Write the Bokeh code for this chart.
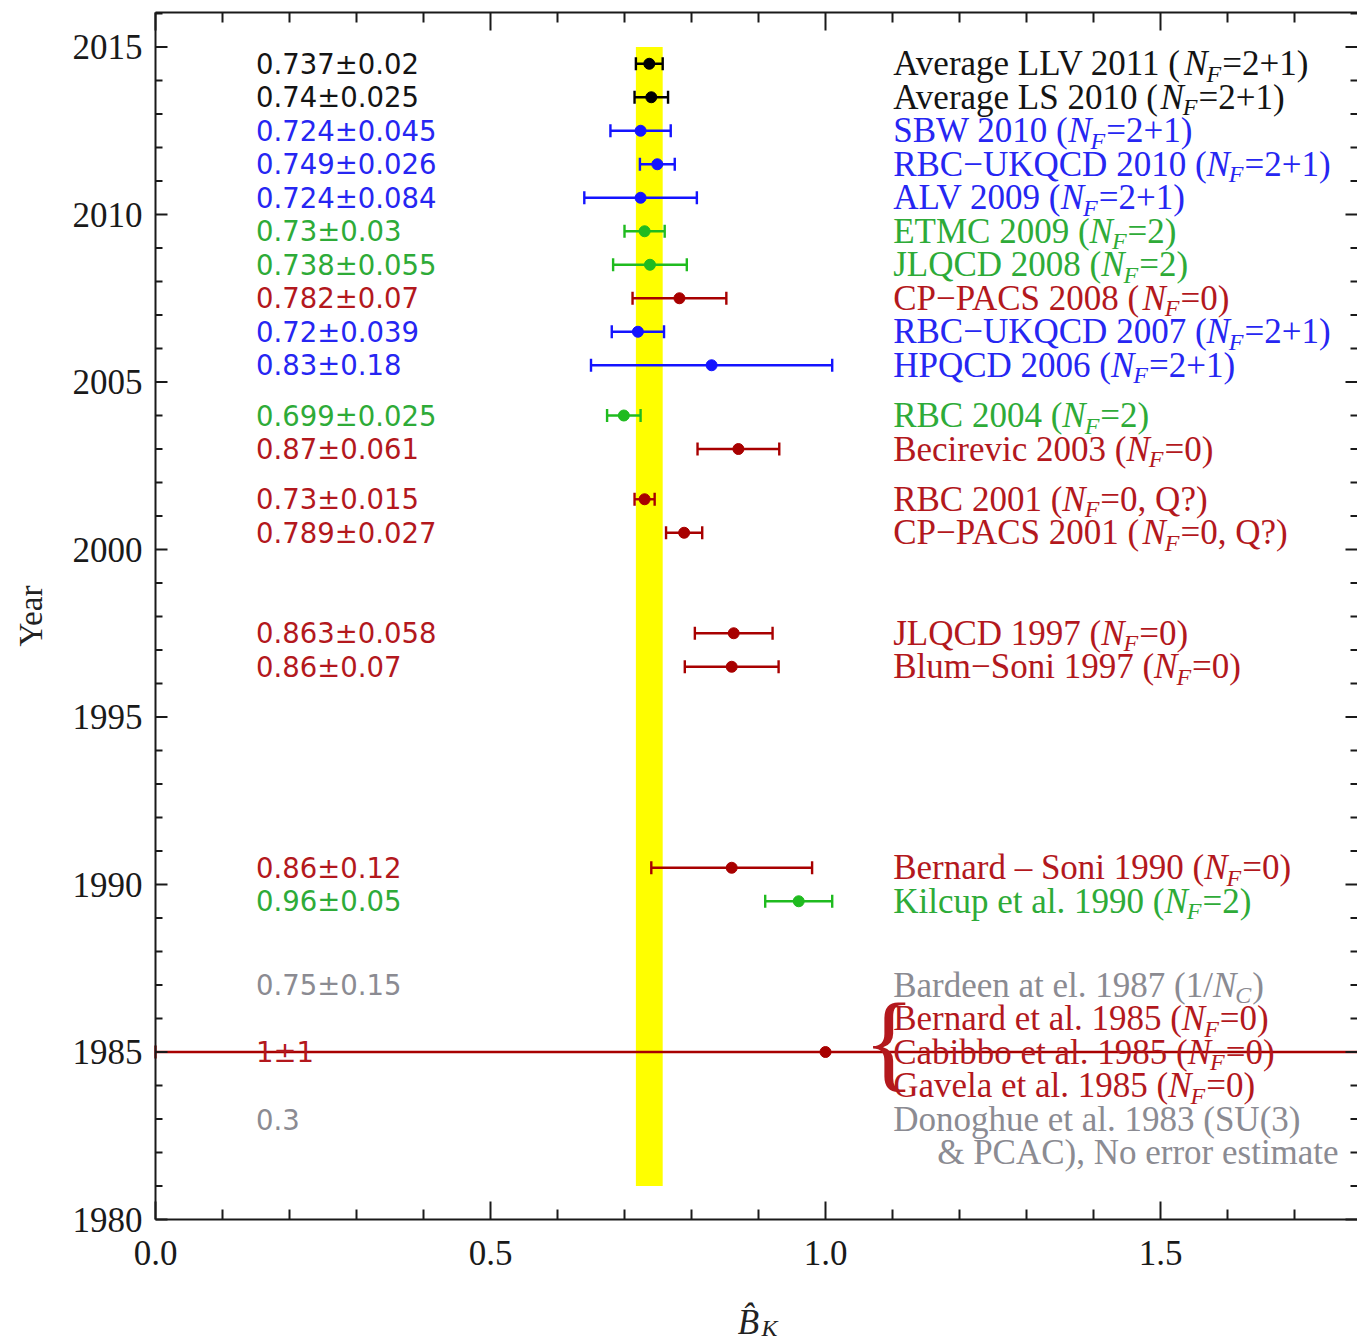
import numpy as np
from bokeh.plotting import figure
from bokeh.models import ColumnDataSource
from bokeh.core.properties import value
from bokeh.embed import file_html
from bokeh.resources import INLINE

# ------------------------------------------------------------------ data
row_year = [2014.5, 2013.5, 2012.5, 2011.5, 2010.5, 2009.5, 2008.5, 2007.5, 2006.5, 2005.5,
            2004.0, 2003.0, 2001.5, 2000.5, 1997.5, 1996.5, 1990.5, 1989.5, 1987.0, 1985.0, 1983.0]
row_value = [0.737, 0.74, 0.724, 0.749, 0.724, 0.73, 0.738, 0.782, 0.72, 0.83,
             0.699, 0.87, 0.73, 0.789, 0.863, 0.86, 0.86, 0.96, 0.75, 1.0, 0.3]
row_error = [0.02, 0.025, 0.045, 0.026, 0.084, 0.03, 0.055, 0.07, 0.039, 0.18,
             0.025, 0.061, 0.015, 0.027, 0.058, 0.07, 0.12, 0.05, 0.15, 1.0, 0.0]
row_group = ["avg", "avg", "nf21", "nf21", "nf21", "nf2", "nf2", "nf0", "nf21", "nf21",
             "nf2", "nf0", "nf0", "nf0", "nf0", "nf0", "nf0", "nf2", "pheno", "nf0", "pheno"]
row_plotted = [True] * 18 + [False, True, False]
row_value_label = ["0.737±0.02", "0.74±0.025", "0.724±0.045", "0.749±0.026", "0.724±0.084",
                   "0.73±0.03", "0.738±0.055", "0.782±0.07", "0.72±0.039", "0.83±0.18",
                   "0.699±0.025", "0.87±0.061", "0.73±0.015", "0.789±0.027", "0.863±0.058",
                   "0.86±0.07", "0.86±0.12", "0.96±0.05", "0.75±0.15", "1±1", "0.3"]

label_year = [2014.5, 2013.5, 2012.5, 2011.5, 2010.5, 2009.5, 2008.5, 2007.5, 2006.5, 2005.5,
              2004.0, 2003.0, 2001.5, 2000.5, 1997.5, 1996.5, 1990.5, 1989.5, 1987.0,
              1986.0, 1985.0, 1984.0, 1983.0, 1982.0]
label_head = ["Average LLV 2011 (", "Average LS 2010 (", "SBW 2010 (", "RBC\u2212UKQCD 2010 (",
              "ALV 2009 (", "ETMC 2009 (", "JLQCD 2008 (", "CP\u2212PACS 2008 (",
              "RBC\u2212UKQCD 2007 (", "HPQCD 2006 (", "RBC 2004 (", "Becirevic 2003 (",
              "RBC 2001 (", "CP\u2212PACS 2001 (", "JLQCD 1997 (", "Blum\u2212Soni 1997 (",
              "Bernard \u2013 Soni 1990 (", "Kilcup et al. 1990 (", "Bardeen at el. 1987 (1/",
              "Bernard et al. 1985 (", "Cabibbo et al. 1985 (", "Gavela et al. 1985 (",
              "Donoghue et al. 1983 (SU(3)", "& PCAC), No error estimate"]
label_sub = ["F"] * 18 + ["C", "F", "F", "F", "", ""]
label_tail = ["=2+1)", "=2+1)", "=2+1)", "=2+1)", "=2+1)", "=2)", "=2)", "=0)", "=2+1)", "=2+1)",
              "=2)", "=0)", "=0, Q?)", "=0, Q?)", "=0)", "=0)", "=0)", "=2)", ")",
              "=0)", "=0)", "=0)", "", ""]
label_group = ["avg", "avg", "nf21", "nf21", "nf21", "nf2", "nf2", "nf0", "nf21", "nf21",
               "nf2", "nf0", "nf0", "nf0", "nf0", "nf0", "nf0", "nf2", "pheno",
               "nf0", "nf0", "nf0", "pheno", "pheno"]

band_value = 0.737
band_error = 0.02
band_years = (1981, 2015)

x_major = [0.0, 0.5, 1.0, 1.5]
x_major_labels = ["0.0", "0.5", "1.0", "1.5"]
x_minor = [0.1, 0.2, 0.3, 0.4, 0.6, 0.7, 0.8, 0.9, 1.1, 1.2, 1.3, 1.4, 1.6, 1.7]
y_major = [1980, 1985, 1990, 1995, 2000, 2005, 2010, 2015]
y_major_labels = ["1980", "1985", "1990", "1995", "2000", "2005", "2010", "2015"]
y_minor = [1981, 1982, 1983, 1984, 1986, 1987, 1988, 1989, 1991, 1992, 1993, 1994, 1996, 1997,
           1998, 1999, 2001, 2002, 2003, 2004, 2006, 2007, 2008, 2009, 2011, 2012, 2013, 2014, 2016]
x_title = "B\u0302"
x_title_sub = "K"
y_title = "Year"

# ------------------------------------------------------------------ styles / layout
text_color = {"avg": "#141414", "nf21": "#2626f2", "nf2": "#2eab38", "nf0": "#b3181d", "pheno": "#8b8b92"}
mark_color = {"avg": "#000000", "nf21": "#1414ff", "nf2": "#1fbb1f", "nf0": "#a80000", "pheno": "#888888"}
AXIS_C = "#1a1a1a"
SERIF = "Liberation Serif"
FS = 35.0
SUB_FS = 24.0
VAL_X = 0.15
LAB_X = 1.101

WIDTH, HEIGHT = 1357, 1342
BOX_LEFT_PX, BOX_TOP_PX = 155, 12
PPX = 670.0     # pixels per unit of B_K
PPY = 33.5      # pixels per year
box_x0 = 0.0
box_x1 = (WIDTH - BOX_LEFT_PX) / PPX
box_y0 = 1980.0
box_y1 = 2016.03
# the frame fills the whole canvas; the axes box is drawn inside it
x0 = box_x0 - BOX_LEFT_PX / PPX
x1 = box_x1
y1 = box_y1 + BOX_TOP_PX / PPY
y0 = y1 - HEIGHT / PPY

# Times metrics (1/1000 em) for offsets of the italic/subscript pieces
W = {' ': 250, '!': 333, '&': 778, '(': 333, ')': 333, '+': 564, ',': 250, '-': 333, '.': 250,
     '/': 278, '=': 564, '?': 444, '\u2212': 564, '\u2013': 500,
     'A': 722, 'B': 667, 'C': 667, 'D': 722, 'E': 611, 'F': 556, 'G': 722, 'H': 722, 'I': 333,
     'J': 389, 'K': 722, 'L': 611, 'M': 889, 'N': 722, 'O': 722, 'P': 556, 'Q': 722, 'R': 667,
     'S': 556, 'T': 611, 'U': 722, 'V': 722, 'W': 944, 'X': 722, 'Y': 722, 'Z': 611,
     'a': 444, 'b': 500, 'c': 444, 'd': 500, 'e': 444, 'f': 333, 'g': 500, 'h': 500, 'i': 278,
     'j': 278, 'k': 500, 'l': 278, 'm': 778, 'n': 500, 'o': 500, 'p': 500, 'q': 500, 'r': 333,
     's': 389, 't': 278, 'u': 500, 'v': 500, 'w': 722, 'x': 500, 'y': 500, 'z': 444}
KERN = {"LV": -100}
W_ITAL = {'N': 667, 'F': 611, 'C': 667}


def tw(s, fs):
    w = sum(W.get(c, 500) for c in s)
    w += sum(KERN.get(s[i:i + 2], 0) for i in range(len(s) - 1))
    return w * fs / 1000.0


p = figure(width=WIDTH, height=HEIGHT, x_range=(x0, x1), y_range=(y0, y1),
           output_backend="svg", toolbar_location=None,
           x_axis_location=None, y_axis_location=None,
           min_border_left=0, min_border_right=0, min_border_top=0, min_border_bottom=0)
p.background_fill_color = "white"
p.border_fill_color = "white"
p.grid.visible = False
p.outline_line_color = None

# yellow band
p.quad(left=[band_value - band_error], right=[band_value + band_error],
       bottom=[band_years[0]], top=[band_years[1]], fill_color="#ffff00", line_color=None)

# error bars and points
v = np.array(row_value)
e = np.array(row_error)
yy = np.array(row_year)
m = np.array(row_plotted)
mc = [mark_color[g] for g in row_group]
src = ColumnDataSource(dict(y=yy[m], lo=np.maximum((v - e)[m], box_x0), hi=(v + e)[m], v=v[m],
                            c=[c for c, k in zip(mc, m) if k]))
p.segment(x0="lo", y0="y", x1="hi", y1="y", source=src, line_color="c", line_width=2.4)
p.scatter(x="lo", y="y", source=src, marker="dash", angle=np.pi / 2, size=13,
          line_color="c", line_width=2.4)
p.scatter(x="hi", y="y", source=src, marker="dash", angle=np.pi / 2, size=13,
          line_color="c", line_width=2.4)
p.scatter(x="v", y="y", source=src, marker="circle", size=11, fill_color="c", line_color="c")

# value column
vsrc = ColumnDataSource(dict(x=[VAL_X] * len(row_year), y=row_year, t=row_value_label,
                             c=[text_color[g] for g in row_group]))
p.text(x="x", y="y", text="t", source=vsrc, text_color="c", text_font=value("DejaVu Sans"),
       text_font_size=value("27.5px"), text_align="left", text_baseline="middle")

# reference labels, built of pieces
n = len(label_year)
indent = [44.0 if h.startswith("&") else 0.0 for h in label_head]
head_w = [tw(h, FS) for h in label_head]
lc = [text_color[g] for g in label_group]
ly = np.array(label_year)
hsrc = ColumnDataSource(dict(x=[LAB_X] * n, y=ly, t=label_head, c=lc, o=indent))
p.text(x="x", y="y", text="t", source=hsrc, text_color="c", x_offset="o",
       text_font=value(SERIF), text_font_size=value(f"{FS}px"),
       text_align="left", text_baseline="middle")

k = [i for i in range(n) if label_sub[i]]
nsrc = ColumnDataSource(dict(x=[LAB_X] * len(k), y=ly[k], t=["N"] * len(k),
                             c=[lc[i] for i in k], o=[indent[i] + head_w[i] for i in k]))
p.text(x="x", y="y", text="t", source=nsrc, text_color="c", x_offset="o",
       text_font=value(SERIF), text_font_style="italic", text_font_size=value(f"{FS}px"),
       text_align="left", text_baseline="middle")
nw = W_ITAL['N'] * FS / 1000.0
ssrc = ColumnDataSource(dict(x=[LAB_X] * len(k), y=ly[k] - 0.3, t=[label_sub[i] for i in k],
                             c=[lc[i] for i in k], o=[indent[i] + head_w[i] + nw - 1 for i in k]))
p.text(x="x", y="y", text="t", source=ssrc, text_color="c", x_offset="o",
       text_font=value(SERIF), text_font_style="italic", text_font_size=value(f"{SUB_FS}px"),
       text_align="left", text_baseline="middle")
tsrc = ColumnDataSource(dict(x=[LAB_X] * len(k), y=ly[k], t=[label_tail[i] for i in k],
                             c=[lc[i] for i in k],
                             o=[indent[i] + head_w[i] + nw + W_ITAL[label_sub[i]] * SUB_FS / 1000.0
                                for i in k]))
p.text(x="x", y="y", text="t", source=tsrc, text_color="c", x_offset="o",
       text_font=value(SERIF), text_font_size=value(f"{FS}px"),
       text_align="left", text_baseline="middle")

# brace grouping the three 1985 entries
grp = [i for i in range(n) if label_year[i] in (1986.0, 1985.0, 1984.0)]
p.text(x=[LAB_X], y=[np.mean(ly[grp]) + 0.3], text=["{"], x_offset=-30,
       text_color=text_color["nf0"], text_font=value(SERIF), text_font_size=value("108px"),
       text_align="left", text_baseline="middle")

# ---------------- axes box, ticks (inward) and tick labels
p.segment(x0=[box_x0, box_x0, box_x0], y0=[box_y0, box_y1, box_y0],
          x1=[box_x1, box_x1, box_x0], y1=[box_y0, box_y1, box_y1],
          line_color=AXIS_C, line_width=2)


def xticks(ticks, length_px):
    nt = len(ticks)
    p.segment(x0=ticks, y0=[box_y0] * nt, x1=ticks, y1=[box_y0 + length_px / PPY] * nt,
              line_color=AXIS_C, line_width=2)
    p.segment(x0=ticks, y0=[box_y1] * nt, x1=ticks, y1=[box_y1 - length_px / PPY] * nt,
              line_color=AXIS_C, line_width=2)


def yticks(ticks, length_px):
    nt = len(ticks)
    p.segment(x0=[box_x0] * nt, y0=ticks, x1=[box_x0 + length_px / PPX] * nt, y1=ticks,
              line_color=AXIS_C, line_width=2)
    p.segment(x0=[box_x1] * nt, y0=ticks, x1=[box_x1 - length_px / PPX] * nt, y1=ticks,
              line_color=AXIS_C, line_width=2)


xticks(x_major, 18)
xticks(x_minor, 10)
yticks(y_major, 12)
yticks(y_minor, 7)

p.text(x=x_major, y=[box_y0 - 33 / PPY] * len(x_major), text=x_major_labels,
       text_color=AXIS_C, text_font=value(SERIF), text_font_size=value("35px"),
       text_align="center", text_baseline="middle")
p.text(x=[box_x0 - 13 / PPX] * len(y_major), y=y_major, text=y_major_labels,
       text_color=AXIS_C, text_font=value(SERIF), text_font_size=value("35px"),
       text_align="right", text_baseline="middle")

# axis titles
xm = (box_x0 + box_x1) / 2
p.text(x=[xm], y=[box_y0 - 103 / PPY], text=[x_title], x_offset=-8,
       text_color="#222222", text_font=value(SERIF), text_font_style="italic",
       text_font_size=value("35px"), text_align="center", text_baseline="middle")
p.text(x=[xm], y=[box_y0 - 108 / PPY], text=[x_title_sub], x_offset=13,
       text_color="#222222", text_font=value(SERIF), text_font_style="italic",
       text_font_size=value("24px"), text_align="center", text_baseline="middle")
p.text(x=[box_x0 - 125 / PPX], y=[(box_y0 + box_y1) / 2], text=[y_title], angle=np.pi / 2,
       text_color="#222222", text_font=value(SERIF), text_font_size=value("33px"),
       text_align="center", text_baseline="middle")

open("out.html", "w").write(file_html(p, INLINE))
